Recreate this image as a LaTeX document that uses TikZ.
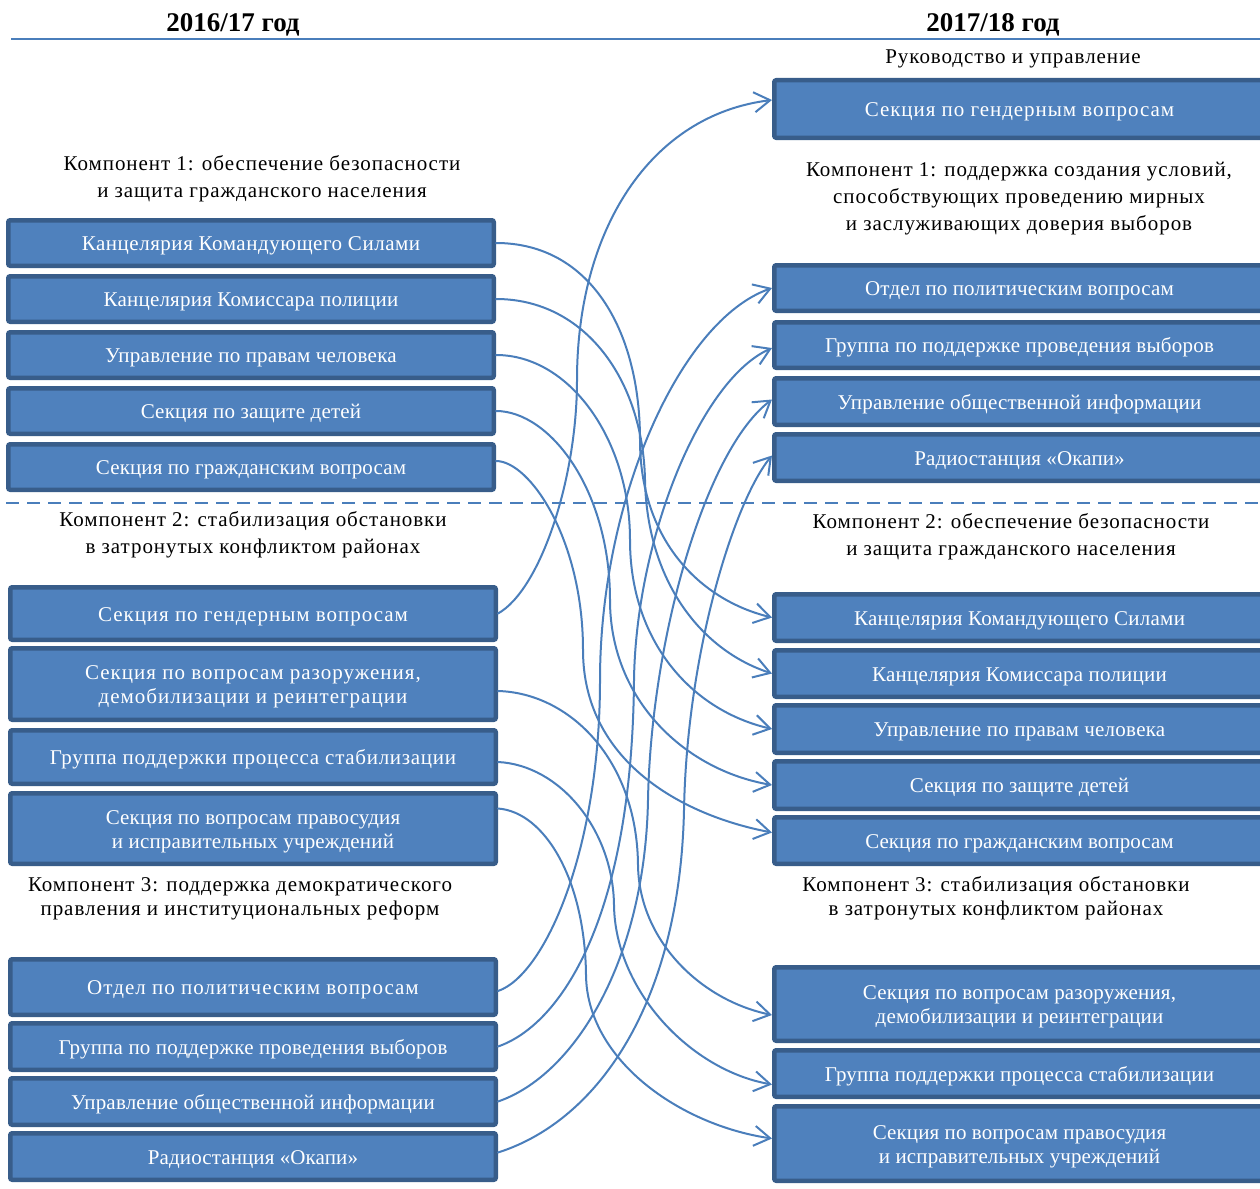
\documentclass[tikz,border=0pt]{standalone}
\usepackage{fontspec}
\setmainfont{Liberation Serif}
\usetikzlibrary{arrows.meta,calc}
\definecolor{boxfill}{HTML}{4F81BD}
\definecolor{boxline}{HTML}{385D8A}
\definecolor{conncol}{HTML}{4A7EBB}
\newcommand\bxf[1]{\fontsize{21}{24}\selectfont\addfontfeature{LetterSpace=#1}}
\newcommand\tstr{\rule{0pt}{20pt}}
\newcommand\bstr{\rule[-5pt]{0pt}{0pt}}
\begin{document}
\begin{tikzpicture}[x=1pt,y=-1pt,
  unitbox/.style={draw=boxline, fill=boxfill, line width=4.5pt, rounded corners=2pt,
    text=white, font=\bxf{1}, align=center,
    minimum width=485.5pt, inner sep=0pt},
  rbox/.style={unitbox, minimum width=490.5pt},
  spaced/.style={font=\bxf{#1}},
  lbl/.style={font=\fontsize{21}{27}\selectfont\addfontfeature{LetterSpace=4.5}, align=center, inner sep=0pt},
  lbltight/.style={font=\fontsize{21}{24}\selectfont\addfontfeature{LetterSpace=4.5}, align=center, inner sep=0pt},
  yearlbl/.style={font=\fontsize{27}{30}\selectfont\bfseries, inner sep=0pt},
  rule/.style={draw=conncol, line width=2pt},
  conn/.style={draw=conncol, line width=2pt, line cap=round,
    -{Straight Barb[length=16pt,width=20pt]}}
]
\useasboundingbox (0,0) rectangle (1260,1188);

% headings
\node[yearlbl] (y1) at (233,24.5) {2016/17 год};
\node[yearlbl] (y2) at (993,24.5) {2017/18 год};
\coordinate (hl) at (11,39);
\coordinate (hr) at (1260,39);
\draw[rule] (hl) -- (hr);
\coordinate (dl) at (6,503);
\coordinate (dr) at (1260,503);
\draw[rule, dash pattern=on 13pt off 8pt] (dl) -- (dr);

% labels
\node[lbl] (rg) at (1013,58.5) {Руководство и управление};
\node[lbl] (lc1) at (262,178.5) {Компонент 1: обеспечение безопасности\\и защита гражданского населения};
\node[lbl] (rc1) at (1019,198.5) {Компонент 1: поддержка создания условий,\\способствующих проведению мирных\\и заслуживающих доверия выборов};
\node[lbl] (lc2) at (253,534.5) {Компонент 2: стабилизация обстановки\\в затронутых конфликтом районах};
\node[lbl] (rc2) at (1011,536.5) {Компонент 2: обеспечение безопасности\\и защита гражданского населения};
\node[lbltight] (lc3) at (240,898.5) {Компонент 3: поддержка демократического\\правления и институциональных реформ};
\node[lbltight] (rc3) at (996,898.5) {Компонент 3: стабилизация обстановки\\в затронутых конфликтом районах};

% left boxes
\node[unitbox, spaced=2.5, minimum height=45.5pt] (lkf) at (251,243) {\tstr\bstr Канцелярия Командующего Силами};
\node[unitbox, minimum height=45.5pt] (lkp) at (251,299) {\tstr\bstr Канцелярия Комиссара полиции};
\node[unitbox, spaced=1.2, minimum height=45.5pt] (lhr) at (251,355) {\tstr\bstr Управление по правам человека};
\node[unitbox, minimum height=45.5pt] (lch) at (251,411) {\tstr\bstr Секция по защите детей};
\node[unitbox, spaced=0.6, minimum height=45.5pt] (lcv) at (251,467) {\tstr\bstr Секция по гражданским вопросам};
\node[unitbox, spaced=4.6, minimum height=52.5pt] (lgen) at (253,613.5) {\tstr\bstr Секция по гендерным вопросам};
\node[unitbox, spaced=4.8, minimum height=71.5pt] (lddr) at (253,684) {\tstr Секция по вопросам разоружения,\\демобилизации и реинтеграции\bstr};
\node[unitbox, spaced=3.4, minimum height=53.5pt] (lstab) at (253,757) {\tstr\bstr Группа поддержки процесса стабилизации};
\node[unitbox, spaced=0.8, minimum height=70.5pt] (ljus) at (253,828.5) {\tstr Секция по вопросам правосудия\\и исправительных учреждений\bstr};
\node[unitbox, spaced=4.8, minimum height=55.5pt] (lpol) at (253,987) {\tstr\bstr Отдел по политическим вопросам};
\node[unitbox, spaced=1.1, minimum height=46.5pt] (lel) at (253,1046.5) {\tstr\bstr Группа по поддержке проведения выборов};
\node[unitbox, spaced=0.9, minimum height=46.5pt] (lpub) at (253,1101.5) {\tstr\bstr Управление общественной информации};
\node[unitbox, spaced=0.5, minimum height=46.5pt] (lrad) at (253,1156.5) {\tstr\bstr Радиостанция «Окапи»};

% right boxes
\node[rbox, spaced=4.5, minimum height=57.5pt] (rgen) at (1019.5,109) {\tstr\bstr Секция по гендерным вопросам};
\node[rbox, spaced=0.6, minimum height=45.5pt] (rpol) at (1019.5,288) {\tstr\bstr Отдел по политическим вопросам};
\node[rbox, spaced=1.1, minimum height=45.5pt] (rel) at (1019.5,345) {\tstr\bstr Группа по поддержке проведения выборов};
\node[rbox, spaced=0.9, minimum height=46.5pt] (rpub) at (1019.5,401.5) {\tstr\bstr Управление общественной информации};
\node[rbox, spaced=0.6, minimum height=46.5pt] (rrad) at (1019.5,457.5) {\tstr\bstr Радиостанция «Окапи»};
\node[rbox, spaced=1.2, minimum height=46.5pt] (rkf) at (1019.5,617.5) {\tstr\bstr Канцелярия Командующего Силами};
\node[rbox, minimum height=46.5pt] (rkp) at (1019.5,673.5) {\tstr\bstr Канцелярия Комиссара полиции};
\node[rbox, spaced=1.2, minimum height=47.5pt] (rhr) at (1019.5,729) {\tstr\bstr Управление по правам человека};
\node[rbox, spaced=0.7, minimum height=47.5pt] (rch) at (1019.5,785) {\tstr\bstr Секция по защите детей};
\node[rbox, spaced=0.3, minimum height=46.5pt] (rcv) at (1019.5,840.5) {\tstr\bstr Секция по гражданским вопросам};
\node[rbox, spaced=0.8, minimum height=73.5pt] (rddr) at (1019.5,1004) {\tstr Секция по вопросам разоружения,\\демобилизации и реинтеграции\bstr};
\node[rbox, minimum height=46.5pt] (rstab) at (1019.5,1073.5) {\tstr\bstr Группа поддержки процесса стабилизации};
\node[rbox, spaced=0.6, minimum height=74.5pt] (rjus) at (1019.5,1143.5) {\tstr Секция по вопросам правосудия\\и исправительных учреждений\bstr};

% connectors
\draw[conn] (lkf.east) .. controls (590,243) and (640,330) .. (640,440)
  .. controls (640,540) and (700,600) .. (rkf.west);
\draw[conn] (lkp.east) .. controls (585,299) and (643,380) .. (645,480)
  .. controls (647,580) and (700,650) .. (rkp.west);
\draw[conn] (lhr.east) .. controls (570,355) and (630,440) .. (630,540)
  .. controls (630,640) and (690,710) .. (rhr.west);
\draw[conn] (lch.east) .. controls (550,411) and (610,490) .. (610,600)
  .. controls (610,700) and (685,770) .. (rch.west);
\draw[conn] ($(lcv.east)+(0,-6)$) .. controls (530,461) and (583,540) .. (583,650)
  .. controls (583,760) and (680,815) .. ($(rcv.west)+(0,-8)$);
\draw[conn] (lgen.east) .. controls (540,590) and (577,480) .. (577,380)
  .. controls (577,230) and (650,115) .. ($(rgen.west)+(0,-9)$);
\draw[conn] ($(lddr.east)+(0,7)$) .. controls (570,693) and (637,760) .. (638,865)
  .. controls (639,940) and (700,1000) .. ($(rddr.west)+(0,11)$);
\draw[conn] ($(lstab.east)+(0,5)$) .. controls (560,765) and (613,830) .. (614,905)
  .. controls (615,990) and (690,1070) .. ($(rstab.west)+(0,11)$);
\draw[conn] ($(ljus.east)+(0,-20)$) .. controls (545,812) and (585,880) .. (586,975)
  .. controls (587,1060) and (680,1125) .. ($(rjus.west)+(0,-5)$);
\draw[conn] ($(lpol.east)+(0,4)$) .. controls (545,975) and (600,850) .. (600,680)
  .. controls (600,500) and (680,320) .. (rpol.west);
\draw[conn] (lel.east) .. controls (560,1025) and (632,920) .. (634,680)
  .. controls (636,540) and (700,380) .. ($(rel.west)+(0,3)$);
\draw[conn] (lpub.east) .. controls (575,1075) and (645,960) .. (648,800)
  .. controls (651,640) and (705,450) .. ($(rpub.west)+(0,-2)$);
\draw[conn] ($(lrad.east)+(0,-4)$) .. controls (600,1120) and (680,1000) .. (684,810)
  .. controls (687,650) and (735,500) .. ($(rrad.west)+(0,-2)$);
\end{tikzpicture}
\end{document}
